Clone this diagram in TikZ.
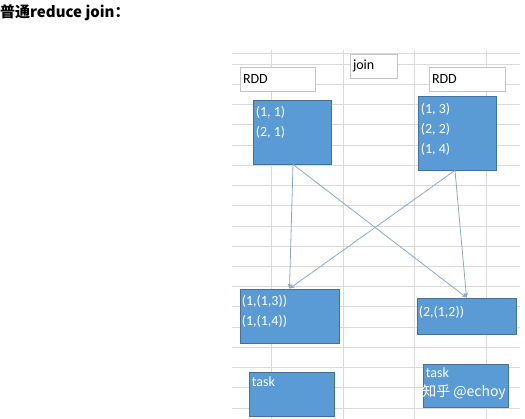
\documentclass[tikz,border=0pt]{standalone}
\usepackage{fontspec}
\setmainfont{Carlito}
\newfontfamily\cjk{Noto Sans CJK SC}
\usetikzlibrary{arrows.meta,positioning}
\definecolor{gridgray}{HTML}{D9D9D9}
\definecolor{cellgray}{HTML}{C4C4C4}
\definecolor{tuplefill}{HTML}{5B9BD5}
\definecolor{tupleline}{HTML}{41719C}
\definecolor{flow}{HTML}{8EA6C6}

\begin{document}
\begin{tikzpicture}[x=1pt,y=-1pt,>={Stealth[length=5pt,width=4pt]},
  cell/.style={draw=cellgray,fill=white,line width=0.8pt,minimum height=24pt,
  inner sep=0pt,text width=#1-6pt,minimum width=#1,align=left,font=\fontsize{14}{16}\selectfont},
  tuple/.style={draw=tupleline,fill=tuplefill,line width=0.8pt,inner sep=0pt},
  txt/.style={inner sep=0pt,align=left,text=white,font=\fontsize{14}{20}\selectfont},
  flowline/.style={draw=flow,line width=0.8pt}]
\useasboundingbox (0,0) rectangle (525,419);
\node[anchor=west,inner sep=0pt,font=\cjk\bfseries\fontsize{15}{15}\selectfont] (title) at (0,13) {普通reduce join：};
\draw[gridgray,line width=0.8pt] (232,53) -- (520,53);
\foreach \i in {0,...,17}
  \draw[gridgray,line width=0.8pt] (232,{64+20.24*\i}) -- (520,{64+20.24*\i});
\foreach \x in {271,343,414,486}
  \draw[gridgray,line width=0.8pt] (\x,50) -- (\x,419);
\node[cell=75pt] (rdda) at (277.5,79) {RDD};
\node[cell=47pt] (join) at (373.5,66) {join};
\node[cell=76pt] (rddb) at (467,79) {RDD};
\node[tuple,minimum width=78pt,minimum height=64pt] (left) at (292,132) {};
\node[tuple,minimum width=78pt,minimum height=74pt] (right) at (457,133) {};
\node[tuple,minimum width=99pt,minimum height=54pt] (outa) at (289.5,316) {};
\node[tuple,minimum width=99pt,minimum height=36pt] (outb) at (466.5,316) {};
\node[tuple,minimum width=85pt,minimum height=44pt] (taska) at (291.5,394) {};
\node[tuple,minimum width=85pt,minimum height=43pt] (taskb) at (465.5,385.5) {};
\node[txt,below right=6pt and 3pt of left.north west] {(1, 1)\\(2, 1)};
\node[txt,below right=7pt and 3pt of right.north west] {(1, 3)\\(2, 2)\\(1, 4)};
\node[txt,below right=6pt and 2pt of outa.north west] {(1,(1,3))\\(1,(1,4))};
\node[txt,below right=8pt and 2pt of outb.north west] {(2,(1,2))};
\node[txt,below right=5pt and 3pt of taska.north west] {task};
\node[txt,below right=4pt and 3pt of taskb.north west] {task};
\node[inner sep=0pt,text=white,font=\cjk\fontsize{14}{14}\selectfont] (mark) at (464,392) {知乎 @echoy};
\draw[flowline,->] ([xshift=1pt]left.south) -- (outa.north);
\draw[flowline,->] ([xshift=1pt]left.south) -- (outb.north);
\draw[flowline,->] ([xshift=-2pt]right.south) -- (outa.north);
\draw[flowline,->] ([xshift=-2pt]right.south) -- (outb.north);
\end{tikzpicture}
\end{document}
